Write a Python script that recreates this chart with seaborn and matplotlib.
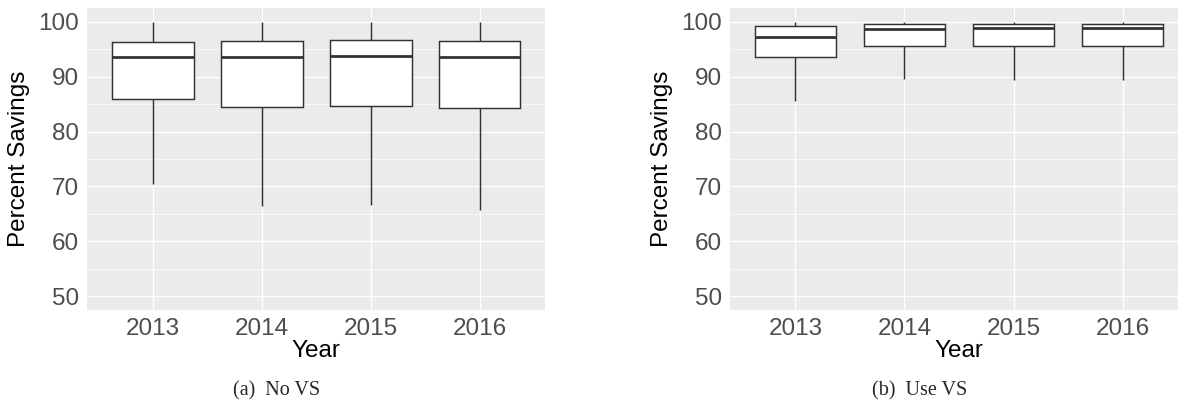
import pandas as pd
import matplotlib.pyplot as plt
import seaborn as sns
import numpy as np

# five-number summaries: low whisker, Q1, median, Q3, high whisker
years = ["2013", "2014", "2015", "2016"]

no_vs_low = [70.5, 66.5, 66.6, 65.8]
no_vs_q1 = [85.9, 84.4, 84.6, 84.3]
no_vs_med = [93.6, 93.6, 93.8, 93.6]
no_vs_q3 = [96.3, 96.5, 96.7, 96.5]
no_vs_high = [100.0, 100.0, 100.0, 100.0]

use_vs_low = [85.5, 89.6, 89.3, 89.3]
use_vs_q1 = [93.6, 95.6, 95.5, 95.5]
use_vs_med = [97.2, 98.6, 98.8, 98.8]
use_vs_q3 = [99.3, 99.6, 99.6, 99.6]
use_vs_high = [100.0, 100.0, 100.0, 100.0]

captions = ["(a)  No VS", "(b)  Use VS"]


def summary_frame(low, q1, med, q3, high):
    rows = []
    for i, year in enumerate(years):
        for v in (low[i], q1[i], med[i], q3[i], high[i]):
            rows.append({"Year": year, "Percent Savings": v})
    return pd.DataFrame(rows)


frames = [summary_frame(no_vs_low, no_vs_q1, no_vs_med, no_vs_q3, no_vs_high),
          summary_frame(use_vs_low, use_vs_q1, use_vs_med, use_vs_q3, use_vs_high)]

sns.set_theme(style="darkgrid")
plt.rcParams["font.family"] = ["Liberation Sans", "DejaVu Sans"]

W, H = 1178, 403
fig = plt.figure(figsize=(W / 100, H / 100), dpi=100)

# panel boxes in pixels: left, top, right, bottom
panels = [(87.3, 8, 545, 310), (730, 8, 1188, 310)]
caption_x = [277, 920]

for i, df in enumerate(frames):
    l, t, r, b = panels[i]
    ax = fig.add_axes([l / W, (H - b) / H, (r - l) / W, (b - t) / H])
    ax.set_facecolor("#EBEBEB")
    sns.boxplot(data=df, x="Year", y="Percent Savings", order=years, ax=ax,
                color="white", saturation=1, linecolor="#333333",
                linewidth=1.05, width=0.75, whis=(0, 100), showcaps=False,
                medianprops={"linewidth": 2.0, "color": "#333333"})
    ax.set_xlim(-0.6, 3.6)
    ax.set_ylim(47.5, 102.5)
    ax.set_yticks([50, 60, 70, 80, 90, 100])
    ax.set_yticks([55, 65, 75, 85, 95], minor=True)
    ax.grid(True, which="major", color="white", linewidth=1.0)
    ax.grid(True, which="minor", axis="y", color="white", linewidth=0.5)
    ax.set_axisbelow(True)
    for s in ax.spines.values():
        s.set_visible(False)
    ax.tick_params(axis="both", which="major", length=4, width=0.8,
                   color="#333333", labelcolor="#4D4D4D", labelsize=17.5, pad=2)
    ax.tick_params(axis="y", which="minor", length=0)
    ax.set_xlabel("Year", fontsize=17.5, color="black", labelpad=0)
    ax.set_ylabel("Percent Savings", fontsize=17.5, color="black", labelpad=6)
    fig.text(caption_x[i] / W, 1 - 391 / H, captions[i], ha="center",
             va="center", fontsize=14.5, family=["Liberation Serif"])

fig.savefig("out.png", dpi=100)
